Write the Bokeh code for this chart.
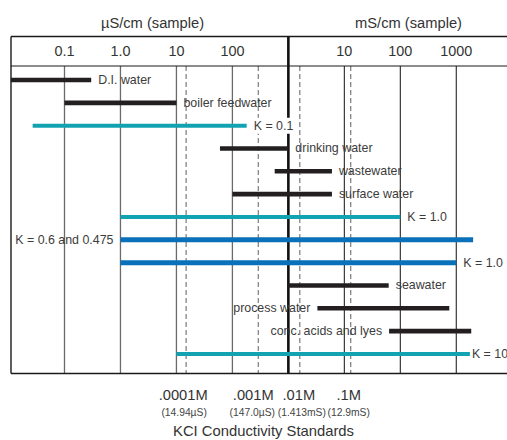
from bokeh.plotting import figure
from bokeh.models import Range1d, ColumnDataSource
from bokeh.core.properties import value
from bokeh.embed import file_html
from bokeh.resources import INLINE

# ---------------- data (conductivity in µS/cm) ----------------
applications = ["D.I. water", "boiler feedwater", "K = 0.1", "drinking water", "wastewater",
                "surface water", "K = 1.0", "K = 0.6 and 0.475", "K = 1.0", "seawater",
                "process water", "conc. acids and lyes", "K = 10.0"]
range_low_uS = [0.011, 0.1, 0.027, 60, 570, 100, 1, 1, 1, 1000, 3300, 63000, 10]
range_high_uS = [0.3, 10, 180, 1000, 6000, 6000, 1e5, 2e6, 1e6, 62000, 7.5e5, 1.85e6, 1.75e6]
bar_kind = ["sample", "sample", "cell", "sample", "sample", "sample", "cell",
            "cell_blue", "cell_blue", "sample", "sample", "sample", "cell"]
label_side = ["right", "right", "right", "right", "right", "right", "right",
              "left", "right", "right", "left", "left", "right"]

us_ticks = [0.1, 1, 10, 100]
us_tick_labels = ["0.1", "1.0", "10", "100"]
ms_ticks = [10, 100, 1000]
ms_tick_labels = ["10", "100", "1000"]
unit_boundary_uS = 1000

kcl_molarity = [".0001M", ".001M", ".01M", ".1M"]
kcl_conductance = ["(14.94µS)", "(147.0µS)", "(1.413mS)", "(12.9mS)"]
kcl_position_uS = [14.9, 290, 1600, 13000]

# ---------------- layout helpers ----------------
W, H = 507, 440
DEC = 55.97          # px per decade
X100 = 231.9         # px of 100 µS
ROW0, ROWH = 79.5, 22.83


def xv(px):
    return 10 ** (2 + (px - X100) / DEC)


def yv(py):
    return (py - ROW0) / ROWH


FONT = value("Liberation Sans")
TXT = "#3c3c3c"
Y_TOP, Y_SEP, Y_BOT = yv(36), yv(65.5), yv(373)
X_LEFT, X_RIGHT = xv(10.5), xv(530)

p = figure(width=W, height=H, x_axis_type="log",
           x_range=Range1d(xv(0), xv(W)), y_range=Range1d(yv(H), yv(0)),
           x_axis_location=None, y_axis_location=None,
           output_backend="svg", toolbar_location=None, min_border=0)
p.grid.visible = False
p.outline_line_color = None
p.background_fill_color = "white"
p.border_fill_color = "white"

# grid lines
p.segment(x0=us_ticks, y0=[Y_SEP] * 4, x1=us_ticks, y1=[Y_BOT] * 4,
          line_color="#6a6a6a", line_width=1.3)
ms_uS = [t * 1000 for t in ms_ticks]
p.segment(x0=ms_uS, y0=[Y_SEP] * 3, x1=ms_uS, y1=[Y_BOT] * 3,
          line_color="#262626", line_width=1.1)
p.segment(x0=kcl_position_uS, y0=[Y_SEP] * 4, x1=kcl_position_uS, y1=[Y_BOT] * 4,
          line_color="#7a7a7a", line_width=1.2, line_dash="5 3")

# frame lines
p.segment(x0=[X_LEFT] * 3, y0=[Y_TOP, Y_SEP, Y_BOT], x1=[X_RIGHT] * 3, y1=[Y_TOP, Y_SEP, Y_BOT],
          line_color="#1a1a1a", line_width=[1.6, 1.2, 1.5])
p.segment(x0=[X_LEFT], y0=[Y_TOP], x1=[X_LEFT], y1=[Y_BOT], line_color="#1a1a1a", line_width=1.4)
p.segment(x0=[unit_boundary_uS], y0=[Y_TOP], x1=[unit_boundary_uS], y1=[Y_BOT],
          line_color="#111111", line_width=2.6)

# bars
colors = {"sample": "#231f20", "cell": "#12a2b2", "cell_blue": "#0a70ba"}
widths = {"sample": 4.6, "cell": 4.0, "cell_blue": 5.0}
rows = list(range(len(applications)))
src = ColumnDataSource(dict(
    low=range_low_uS, high=range_high_uS, row=rows,
    color=[colors[k] for k in bar_kind], width=[widths[k] for k in bar_kind]))
p.segment(x0="low", y0="row", x1="high", y1="row", source=src,
          line_color="color", line_width="width", line_cap="butt")

# row labels
LBL = "12.4px"
right_idx = [i for i, s in enumerate(label_side) if s == "right" and applications[i] != "K = 0.1"]
left_idx = [i for i, s in enumerate(label_side) if s == "left"]
rsrc = ColumnDataSource(dict(x=[range_high_uS[i] for i in right_idx], y=[rows[i] for i in right_idx],
                             t=[applications[i] for i in right_idx],
                             off=[2 if applications[i] == "K = 10.0" else 7 for i in right_idx]))
p.text(x="x", y="y", text="t", source=rsrc, x_offset="off", text_align="left",
       text_baseline="middle", text_font=FONT, text_font_size=LBL, text_color=TXT)
lsrc = ColumnDataSource(dict(x=[range_low_uS[i] for i in left_idx], y=[rows[i] for i in left_idx],
                             t=[applications[i] for i in left_idx]))
p.text(x="x", y="y", text="t", source=lsrc, x_offset=-7, text_align="right",
       text_baseline="middle", text_font=FONT, text_font_size=LBL, text_color=TXT)
k01 = applications.index("K = 0.1")
p.text(x=[range_high_uS[k01]], y=[rows[k01]], text=[applications[k01]], x_offset=6,
       text_align="left", text_baseline="middle", text_font=FONT, text_font_size=LBL,
       text_color=TXT, background_fill_color="white", padding=1)

# header tick labels
p.text(x=us_ticks + ms_uS, y=[yv(50)] * 7, text=us_tick_labels + ms_tick_labels,
       text_align="center", text_baseline="middle", text_font=FONT,
       text_font_size="14.4px", text_color="#333333")
# unit titles
p.text(x=[xv(152), xv(408)], y=[yv(22)] * 2, text=["µS/cm (sample)", "mS/cm (sample)"],
       text_align="center", text_baseline="middle", text_font=FONT,
       text_font_size="14.7px", text_color="#333333")
# KCl standards
ksrc = ColumnDataSource(dict(x=kcl_position_uS, m=kcl_molarity, c=kcl_conductance,
                             ym=[yv(394.5)] * 4, yc=[yv(411.5)] * 4,
                             om=[-3, -5, -1, -2], oc=[-2, -6, 2, -2]))
p.text(x="x", y="ym", text="m", source=ksrc, x_offset="om",
       text_align="center", text_baseline="middle", text_font=FONT,
       text_font_size="14.7px", text_color="#333333")
p.text(x="x", y="yc", text="c", source=ksrc, x_offset="oc",
       text_align="center", text_baseline="middle", text_font=FONT,
       text_font_size="10.3px", text_color="#444444")
p.text(x=[xv(263)], y=[yv(430)], text=["KCI Conductivity Standards"],
       text_align="center", text_baseline="middle", text_font=FONT,
       text_font_size="14.8px", text_color="#333333")

open("out.html", "w").write(file_html(p, INLINE))
